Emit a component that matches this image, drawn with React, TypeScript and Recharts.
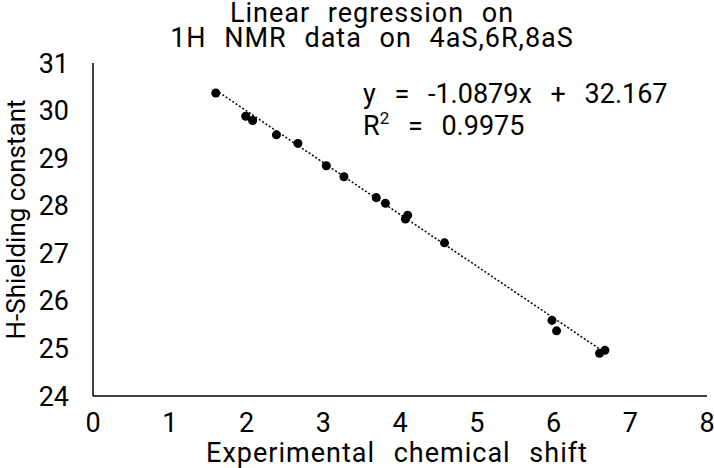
import React from 'react';
import { ScatterChart, Scatter, XAxis, YAxis, ZAxis, Label } from 'recharts';

// Experimental vs computed shifts
const shiftX = [1.6, 1.99, 2.08, 2.39, 2.67, 3.04, 3.27, 3.69, 3.81, 4.07, 4.1, 4.58, 5.98, 6.04, 6.6, 6.67];
const shieldY = [30.37, 29.88, 29.79, 29.49, 29.31, 28.84, 28.61, 28.17, 28.05, 27.72, 27.8, 27.22, 25.59, 25.37, 24.9, 24.96];

// end points of the dotted trend line
const trendX = [1.6, 6.7];
const trendY = [30.43, 24.88];

const xTicks = [0, 1, 2, 3, 4, 5, 6, 7, 8];
const yTicks = [24, 25, 26, 27, 28, 29, 30, 31];

const points = shiftX.map((x, i) => ({ x, y: shieldY[i] }));
const trend = trendX.map((x, i) => ({ x, y: trendY[i] }));

const font = 'Roboto, sans-serif';
const tickStyle = { fontSize: 27, fill: '#000', fontFamily: font };

const App: React.FC = () => {
  return (
    <div style={{ position: 'absolute', left: 0, top: 0, width: 714, height: 468, background: '#fff', fontFamily: font }}>
      <div style={{ position: 'absolute', left: 0, width: 714, top: 1, textAlign: 'center', fontSize: 27, lineHeight: '25px', color: '#000', wordSpacing: 10, letterSpacing: 1, paddingLeft: 30, boxSizing: 'border-box' }}>
        <div>Linear regression on</div>
        <div>1H NMR data on 4aS,6R,8aS</div>
      </div>

      <ScatterChart width={714} height={468} margin={{ top: 63, right: 7, bottom: 42, left: 33 }}>
        <XAxis
          type="number"
          dataKey="x"
          domain={[0, 8]}
          ticks={xTicks}
          tickLine={false}
          axisLine={{ stroke: '#000', strokeWidth: 1.5 }}
          tick={tickStyle}
          height={30}
          tickMargin={11}
        >
          <Label value="Experimental chemical shift" position="bottom" offset={17} dx={-3} style={{ fontSize: 27, fill: '#000', fontFamily: font, wordSpacing: 11, letterSpacing: 1 }} />
        </XAxis>
        <YAxis
          type="number"
          dataKey="y"
          domain={[24, 31]}
          ticks={yTicks}
          tickLine={false}
          axisLine={{ stroke: '#000', strokeWidth: 1.5 }}
          tick={tickStyle}
          width={60}
          tickMargin={18}
        >
          <Label value="H-Shielding constant" angle={-90} position="insideLeft" offset={-17} dy={-10} style={{ fontSize: 26, fill: '#000', fontFamily: font, textAnchor: 'middle' }} />
        </YAxis>
        <ZAxis range={[70, 70]} />
        <Scatter
          data={trend}
          fill="none"
          line={{ stroke: '#000', strokeWidth: 1.5, strokeDasharray: '2 2' }}
          shape={() => null}
          isAnimationActive={false}
        />
        <Scatter data={points} fill="#000" isAnimationActive={false} />
      </ScatterChart>

      <div style={{ position: 'absolute', left: 363, top: 78, fontSize: 27, lineHeight: '32px', color: '#000', wordSpacing: 12, whiteSpace: 'nowrap' }}>
        <div>y = -1.0879x + 32.167</div>
        <div>R<span style={{ fontSize: 17, position: 'relative', top: -11 }}>2</span> = 0.9975</div>
      </div>
    </div>
  );
};

export default App;
